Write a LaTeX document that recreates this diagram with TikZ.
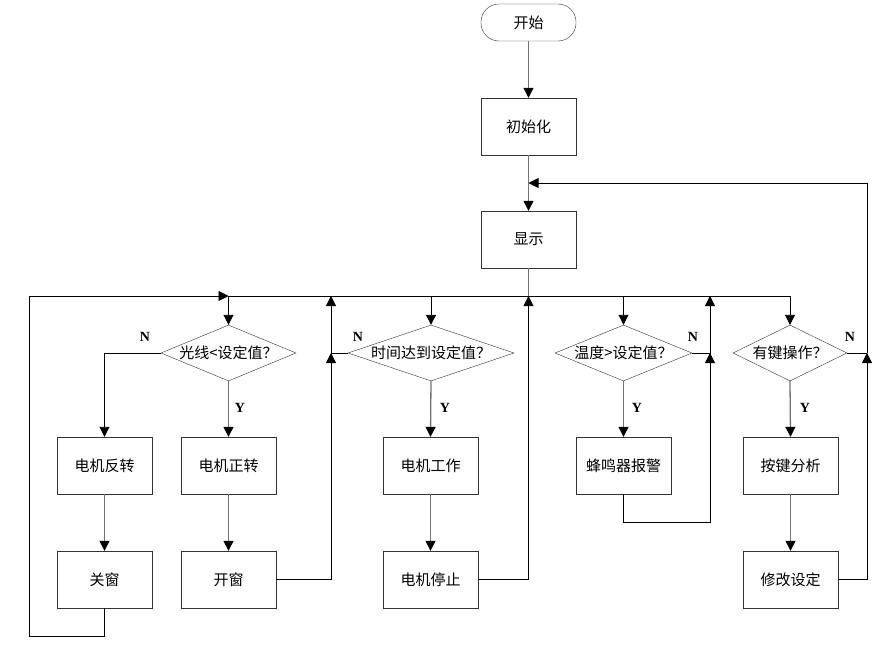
\documentclass[tikz,border=0pt]{standalone}
\usepackage{fontspec}
\newfontfamily\cjk{Noto Sans CJK SC}
\newfontfamily\labfont{Liberation Serif}
\usetikzlibrary{shapes.geometric,arrows.meta}
\begin{document}
\begin{tikzpicture}[x=1pt,y=-1pt,
  box/.style={draw=black!80,fill=white,minimum width=95pt,minimum height=57pt,inner sep=0pt,font=\cjk\fontsize{15}{16}\selectfont},
  term/.style={draw=black!80,fill=white,minimum width=95pt,minimum height=37pt,rounded corners=18pt,inner sep=0pt,font=\cjk\fontsize{15}{16}\selectfont},
  dia/.style={draw=black!80,fill=white,shape=diamond,inner sep=0pt},
  dtext/.style={font=\cjk\fontsize{15}{16}\selectfont,inner sep=0pt},
  lab/.style={font=\labfont\bfseries\fontsize{14}{15}\selectfont,inner sep=0pt},
  tip/.style={-{Triangle[length=10pt,width=10pt,color=black]}},
  vline/.style={draw=black!55,line width=1.3pt},
  hline/.style={draw=black,line width=0.9pt}
]
\useasboundingbox (0,0) rectangle (879,648);
% nodes
\node[term] (start) at (528.5,22.5) {开始};
\node[box] (init) at (528.5,126.5) {初始化};
\node[box] (disp) at (528.5,239.5) {显示};
\node[dia,minimum width=135pt,minimum height=56pt] (d1) at (228.5,353) {};
\node[dtext] at (d1) {光线<设定值？};
\node[dia,minimum width=166pt,minimum height=56pt] (d2) at (431,353) {};
\node[dtext] at (d2) {时间达到设定值？};
\node[dia,minimum width=137pt,minimum height=56pt] (d3) at (623.5,353) {};
\node[dtext] at (d3) {温度>设定值？};
\node[dia,minimum width=114pt,minimum height=56pt] (d4) at (790,353) {};
\node[dtext] at (d4) {有键操作？};
\node[box] (fan) at (104.5,465.5) {电机反转};
\node[box] (guan) at (104.5,579.5) {关窗};
\node[box] (zheng) at (228.5,465.5) {电机正转};
\node[box] (kai) at (228.5,579.5) {开窗};
\node[box] (work) at (430.5,465.5) {电机工作};
\node[box] (stop) at (430.5,579.5) {电机停止};
\node[box] (beep) at (623.5,465.5) {蜂鸣器报警};
\node[box] (anal) at (790.5,465.5) {按键分析};
\node[box] (mod) at (790.5,579.5) {修改设定};
% labels
\node[lab] (n1) at (145,337) {N};
\node[lab] (y1) at (240,408) {Y};
\node[lab] (n2) at (358,337) {N};
\node[lab] (y2) at (445,408) {Y};
\node[lab] (n3) at (693,337) {N};
\node[lab] (y3) at (637,408) {Y};
\node[lab] (n4) at (850,337) {N};
\node[lab] (y4) at (805,408) {Y};
% coordinates
\coordinate (busC) at (528.5,296);
\coordinate (L) at (29,296);
\coordinate (Lb) at (29,636);
\coordinate (j1) at (228.5,296);
\coordinate (j2) at (331,353);
\coordinate (j2t) at (331,296);
\coordinate (j3) at (710,353);
\coordinate (j3t) at (710,296);
\coordinate (j4) at (867,353);
\coordinate (j4t) at (867,183);
\coordinate (j0) at (528.5,183);
\coordinate (bb) at (623.5,522);
% main vertical connectors
\draw[vline,tip] (start) -- (init);
\draw[vline,tip] (init) -- (disp);
\draw[vline] (disp) -- (busC);
\draw[hline,tip] (busC) -| (d1.north);
\draw[hline,tip] (busC) -| (d2.north);
\draw[hline,tip] (busC) -| (d3.north);
\draw[hline,tip] (busC) -| (d4.north);
% branch 1
\draw[hline,tip] (d1.west) -| (fan.north);
\draw[vline,tip] (d1.south) -- (zheng.north);
\draw[vline,tip] (fan) -- (guan);
\draw[vline,tip] (zheng) -- (kai);
\draw[hline,tip] (guan.south) |- (Lb) -- (L) -- (j1);
\draw[hline,tip] (kai.east) -| (j2);
\draw[hline,tip] (d2.west) -| (j2t);
% branch 2
\draw[vline,tip] (d2.south) -- (work.north);
\draw[vline,tip] (work) -- (stop);
\draw[hline,tip] (stop.east) -| (busC);
% branch 3
\draw[vline,tip] (d3.south) -- (beep.north);
\draw[hline,tip] (d3.east) -| (j3t);
\draw[hline,tip] (beep.south) -- (bb) -| (j3);
% branch 4
\draw[vline,tip] (d4.south) -- (anal.north);
\draw[vline,tip] (anal) -- (mod);
\draw[hline] (d4.east) -- (j4);
\draw[hline,tip] (mod.east) -| (j4);
\draw[hline,tip] (j4) -- (j4t) -- (j0);
\end{tikzpicture}
\end{document}
